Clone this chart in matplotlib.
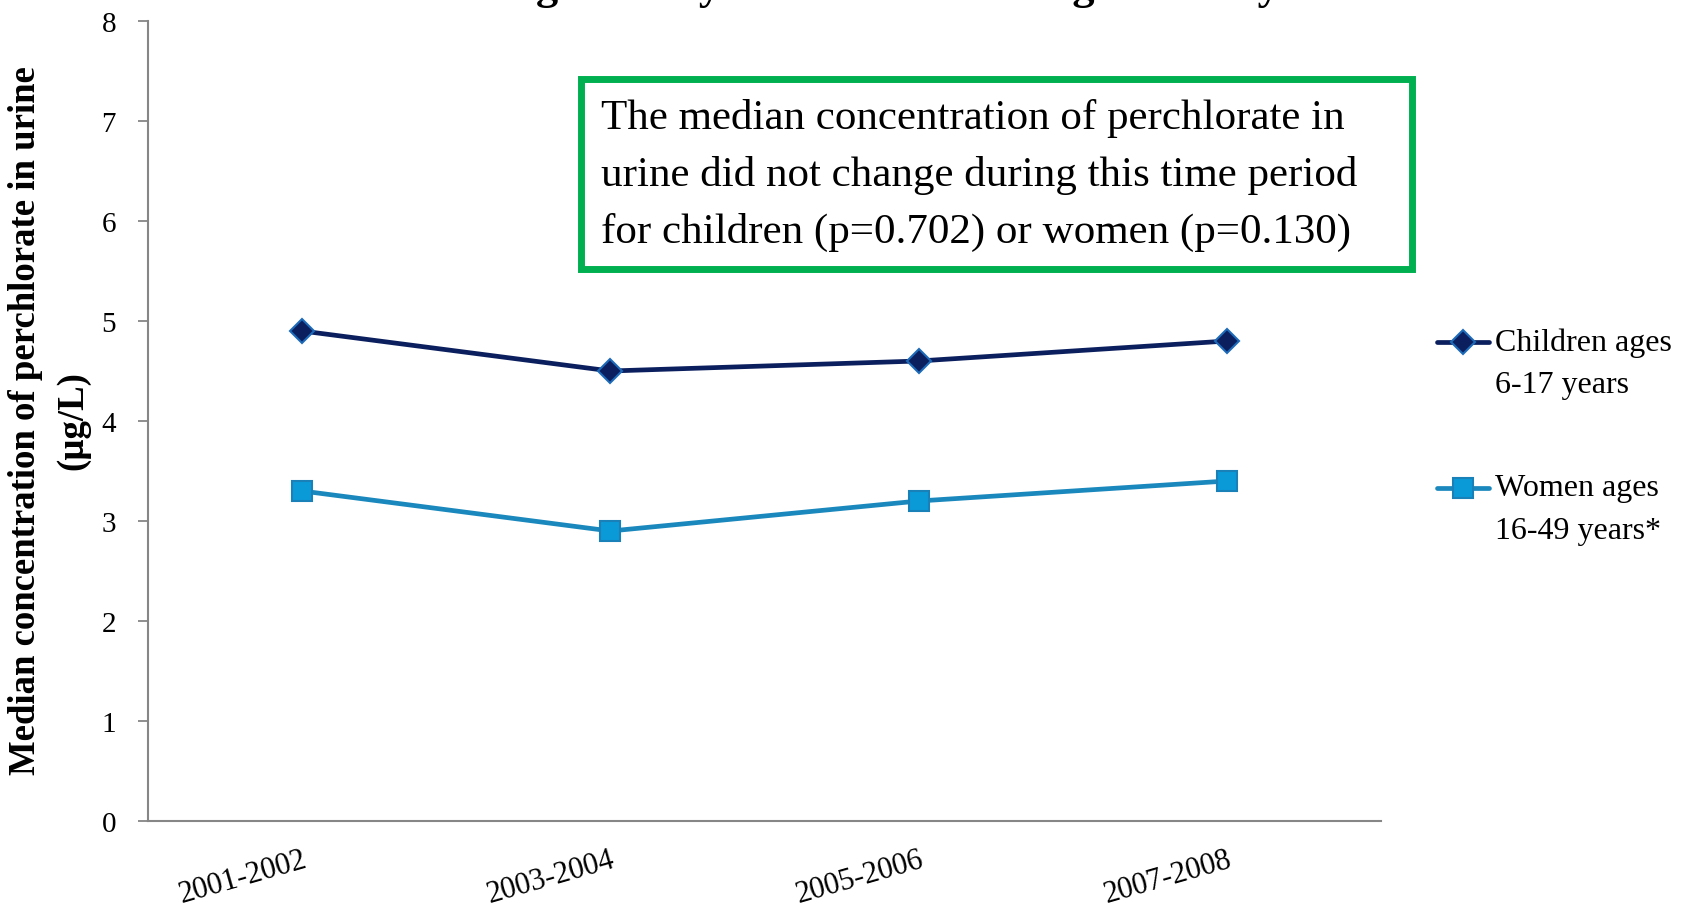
import matplotlib
matplotlib.use("Agg")
import matplotlib.pyplot as plt
from matplotlib.patches import Rectangle
from matplotlib.lines import Line2D

# Survey periods and median urinary perchlorate (µg/L)
periods = ["2001-2002", "2003-2004", "2005-2006", "2007-2008"]
children = [4.9, 4.5, 4.6, 4.8]
women = [3.3, 2.9, 3.2, 3.4]
yticks = [0, 1, 2, 3, 4, 5, 6, 7, 8]
legend_labels = [["Children ages", "6-17 years"], ["Women ages", "16-49 years*"]]

W, H = 1692, 912
SERIF = ["Liberation Serif", "DejaVu Serif"]
plt.rcParams["font.family"] = SERIF

fig = plt.figure(figsize=(W / 100, H / 100), dpi=100)


def fx(px):
    return px / W


def fy(py):
    return 1 - py / H


ax = fig.add_axes([fx(148), fy(822), fx(1381) - fx(148), fy(22) - fy(822)])

navy = "#0b1f5e"
navy_edge = "#1d6ab8"
blue_line = "#1a88bd"
blue_fill = "#0a9ad8"
blue_edge = "#1a80b8"

child_style = dict(color=navy, lw=3.4, marker="D", ms=12, markerfacecolor=navy,
                   markeredgecolor=navy_edge, markeredgewidth=1.5,
                   solid_capstyle="round")
women_style = dict(color=blue_line, lw=3.4, marker="s", ms=15, markerfacecolor=blue_fill,
                   markeredgecolor=blue_edge, markeredgewidth=1.5,
                   solid_capstyle="round")

x = list(range(len(periods)))
ax.plot(x, children, zorder=3, **child_style)
ax.plot(x, women, zorder=3, **women_style)

ax.set_xlim(-0.5, len(periods) - 0.5)
ax.set_ylim(0, 8)
ax.set_yticks(yticks)
ax.set_yticklabels([str(v) for v in yticks], fontsize=21)
ax.set_xticks(x)
ax.set_xticklabels(periods, fontsize=22, rotation=16, ha="right",
                   rotation_mode="anchor")
ax.tick_params(axis="x", length=0, pad=17)
ax.tick_params(axis="y", length=7, width=1.3, color="#868686", pad=16, direction="out")
for s in ("top", "right"):
    ax.spines[s].set_visible(False)
for s in ("left", "bottom"):
    ax.spines[s].set_color("#868686")
    ax.spines[s].set_linewidth(1.5)

fig.text(fx(26), fy(421), "Median concentration of perchlorate in urine",
         rotation=90, ha="center", va="center", fontsize=26.5, fontweight="bold")
fig.text(fx(73), fy(421), "(µg/L)", rotation=90, ha="center", va="center",
         fontsize=26.5, fontweight="bold")

# Title line running off the top edge
fig.text(0.5, 1 + 1 / H, "Children ages 6-17 years and Women ages 16-49 years",
         ha="center", va="baseline", fontsize=32, fontweight="bold")

# Annotation box
fig.patches.append(Rectangle((fx(581), fy(270)), fx(1412) - fx(581), fy(80) - fy(270),
                             transform=fig.transFigure, fill=False,
                             edgecolor="#00b050", linewidth=5, zorder=5))
note = ["The median concentration of perchlorate in",
        "urine did not change during this time period",
        "for children (p=0.702) or women (p=0.130)"]
for i, line in enumerate(note):
    fig.text(fx(601), fy(129 + 57 * i), line, ha="left", va="baseline", fontsize=31)

# Legend, drawn by hand so the marker sits on the first text line
for (row_y, style, lines) in [(343, child_style, legend_labels[0]),
                              (489, women_style, legend_labels[1])]:
    fig.add_artist(Line2D([fx(1437), fx(1489)], [fy(row_y), fy(row_y)],
                          transform=fig.transFigure, **{k: v for k, v in style.items()
                                                        if k != "marker"}))
    fig.add_artist(Line2D([fx(1463)], [fy(row_y)], transform=fig.transFigure,
                          linestyle="none", **{k: v for k, v in style.items()
                                               if k not in ("lw", "solid_capstyle")}))
    for j, t in enumerate(lines):
        fig.text(fx(1495), fy(row_y + 43 * j), t, ha="left", va="center", fontsize=23)

fig.savefig("out.png", dpi=100)
